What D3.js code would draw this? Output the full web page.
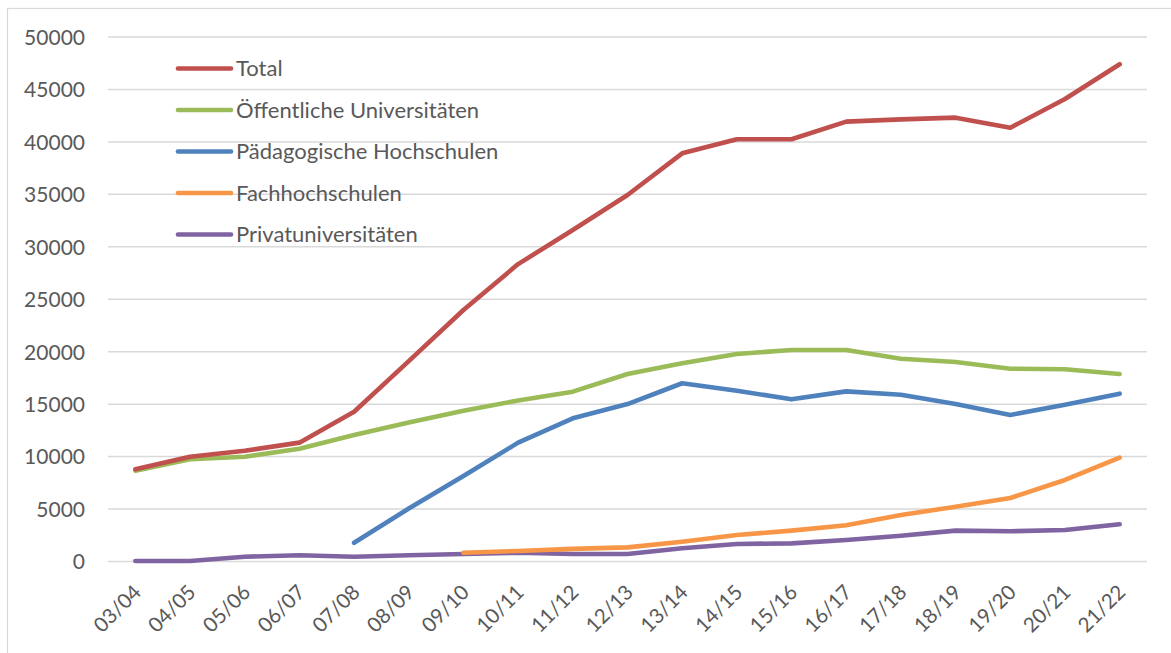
<!DOCTYPE html>
<html>
<head>
<meta charset="utf-8">
<script src="https://cdn.jsdelivr.net/npm/d3@7"></script>
<style>
  body { margin: 0; background: #fff; }
  svg { display: block; }
  text { font-family: Lato, "Open Sans", sans-serif; fill: #595959; }
</style>
</head>
<body>
<svg id="chart" width="1171" height="653"></svg>
<script>
const categories = ["03/04","04/05","05/06","06/07","07/08","08/09","09/10","10/11","11/12","12/13","13/14","14/15","15/16","16/17","17/18","18/19","19/20","20/21","21/22"];
const yTicks = [0,5000,10000,15000,20000,25000,30000,35000,40000,45000,50000];

const seriesNames = ["Total","Öffentliche Universitäten","Pädagogische Hochschulen","Fachhochschulen","Privatuniversitäten"];
const seriesColors = ["#C0504D","#9BBB59","#4F81BD","#F79646","#8064A2"];

const total = [8790,9990,10560,11330,14280,19100,23980,28350,31600,34940,38910,40250,40250,41930,42150,42310,41350,44090,47400];
const oeffentliche = [8660,9740,9990,10750,12060,13250,14380,15350,16190,17870,18890,19780,20160,20160,19330,19020,18380,18320,17870];
const paedagogische = [null,null,null,null,1790,5050,8150,11330,13650,15010,16990,16280,15460,16220,15900,15010,13970,14950,16000];
const fachhochschulen = [null,null,null,null,null,null,840,1000,1200,1350,1890,2530,2940,3450,4430,5220,6050,7770,9900];
const privat = [50,50,460,590,460,600,720,840,720,720,1260,1670,1730,2050,2460,2940,2880,3000,3550];

const seriesValues = [total, oeffentliche, paedagogische, fachhochschulen, privat];

(function () {
const svg = d3.select("#chart");

svg.append("rect")
  .attr("x", 7.5).attr("y", 8.5)
  .attr("width", 1200).attr("height", 700)
  .attr("fill", "none").attr("stroke", "#d9d9d9").attr("stroke-width", 1.2);

const pLeft = 108, pRight = 1147, pTop = 37, pBottom = 561.5;

const x = d3.scaleBand().domain(categories).range([pLeft, pRight]).padding(0);
const y = d3.scaleLinear().domain([0, 50000]).range([pBottom, pTop]);

svg.append("g").selectAll("line")
  .data(yTicks).join("line")
  .attr("x1", pLeft).attr("x2", pRight)
  .attr("y1", d => y(d)).attr("y2", d => y(d))
  .attr("stroke", "#d9d9d9").attr("stroke-width", 1.5);

const yAxis = d3.axisLeft(y).tickValues(yTicks).tickSize(0).tickPadding(0).tickFormat(d3.format("d"));
const gy = svg.append("g").attr("transform", `translate(${pLeft - 23},0)`).call(yAxis);
gy.select(".domain").remove();
gy.selectAll("text").style("font-size", "21px").attr("fill", "#595959").attr("font-family", "Lato, sans-serif").attr("dy", "0.35em");

const xAxis = d3.axisBottom(x).tickSize(0).tickPadding(0);
const gx = svg.append("g").attr("transform", `translate(0,${pBottom})`).call(xAxis);
gx.select(".domain").remove();
gx.selectAll("text")
  .style("font-size", "20.5px").attr("fill", "#595959").attr("font-family", "Lato, sans-serif")
  .attr("text-anchor", "end")
  .attr("dy", "0")
  .attr("y", 0)
  .attr("transform", "translate(7,32) rotate(-45)");

const line = d3.line()
  .defined(d => d != null)
  .x((d, i) => x(categories[i]) + x.bandwidth() / 2)
  .y(d => y(d));

[4, 3, 2, 1, 0].forEach(k => {
  svg.append("path")
    .datum(seriesValues[k])
    .attr("fill", "none")
    .attr("stroke", seriesColors[k])
    .attr("stroke-width", 4.6)
    .attr("stroke-linecap", "round")
    .attr("stroke-linejoin", "round")
    .attr("d", line);
});

const legend = svg.append("g");
seriesNames.forEach((name, i) => {
  const ly = 68.5 + i * 41.5;
  legend.append("line")
    .attr("x1", 178).attr("x2", 231)
    .attr("y1", ly).attr("y2", ly)
    .attr("stroke", seriesColors[i]).attr("stroke-width", 4.6)
    .attr("stroke-linecap", "round");
  legend.append("text")
    .attr("x", 236).attr("y", ly).attr("dy", "0.35em")
    .style("font-size", "22px")
    .text(name);
});
})();
</script>
</body>
</html>
